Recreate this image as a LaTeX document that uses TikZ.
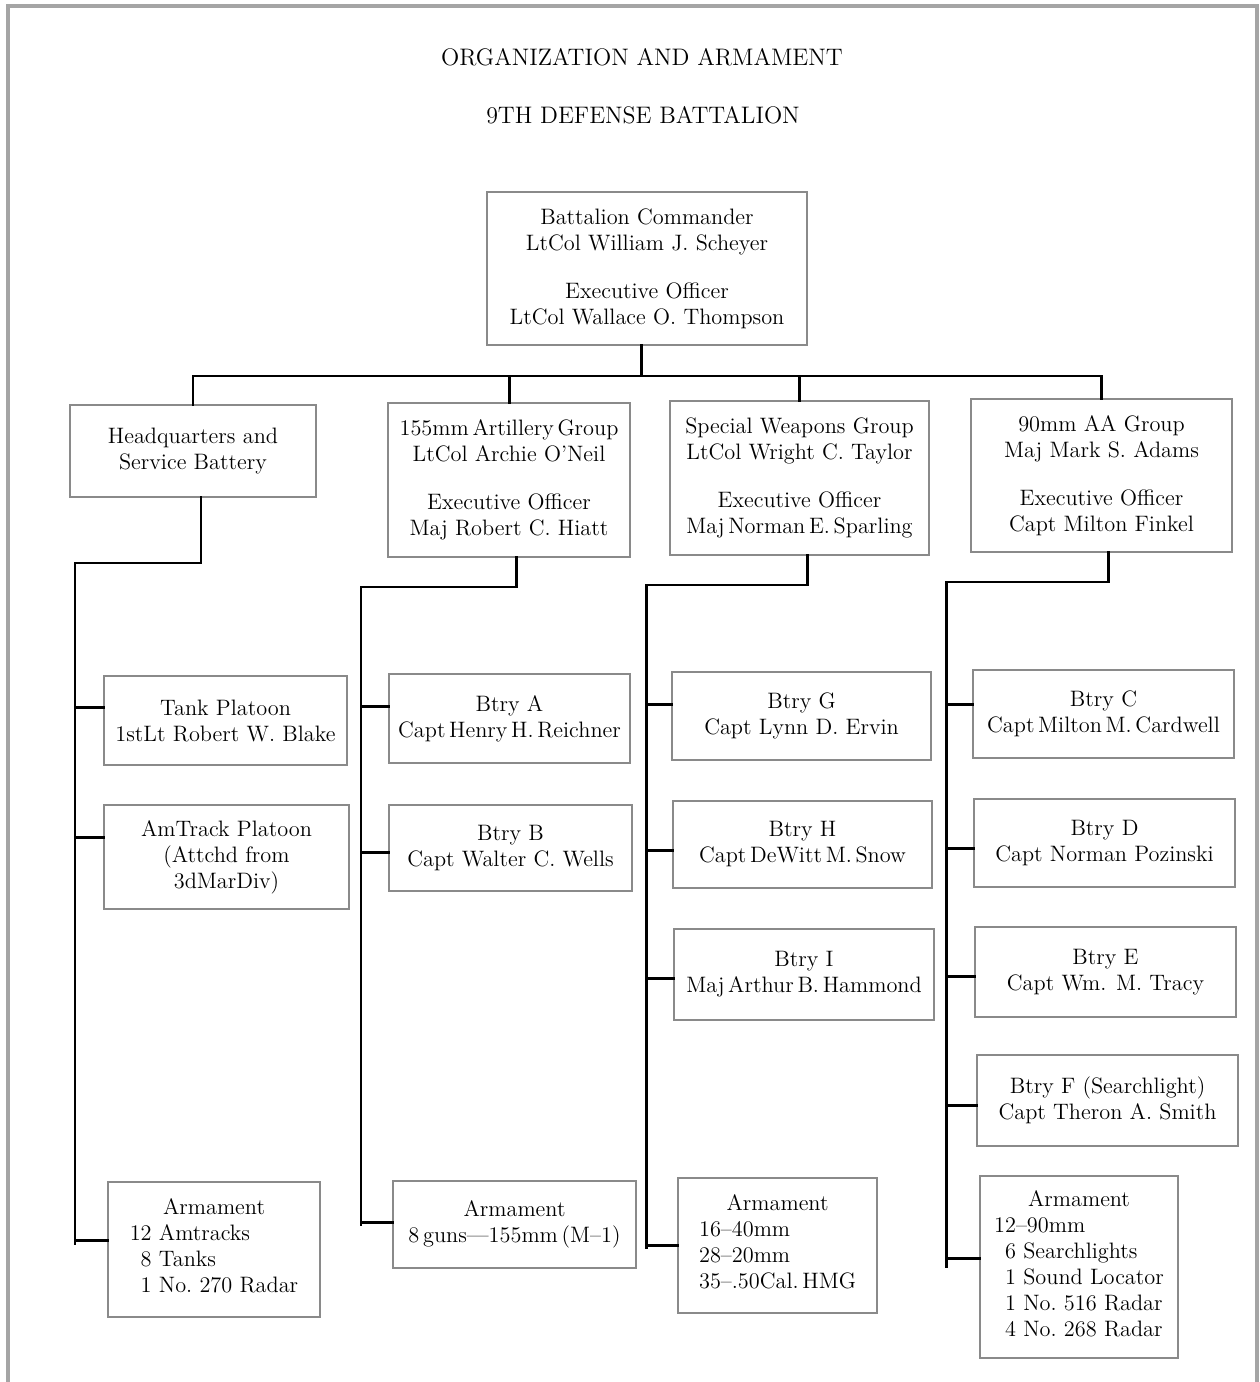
\documentclass[tikz,border=0pt]{standalone}
\usepackage{tikz}
\usetikzlibrary{positioning, calc}
\definecolor{frgrey}{HTML}{A5A5A5}
\definecolor{bxgrey}{HTML}{8A8A8A}

\begin{document}
\begin{tikzpicture}[x=0.02cm, y=-0.02cm, font=\fontsize{12.7}{14.8}\selectfont,
    orgbox/.style 2 args={draw=bxgrey, line width=0.8pt, align=center, inner sep=0pt,
                          minimum width=#1*0.02cm, minimum height=#2*0.02cm},
    link/.style={line width=1.7pt, line cap=rect},
    heading/.style={font=\fontsize{13.6}{16}\selectfont}]
  \useasboundingbox (0,0) rectangle (1260,1382);
  % page frame
  \draw[frgrey, line width=2.3pt] (8,1382) -- (8,6) -- (1257,6) -- (1257,1382);
  \node[heading] (title) at (642,57) {ORGANIZATION AND ARMAMENT};
  \node[heading] (subtitle) at (643,115) {9TH DEFENSE BATTALION};
  % command
  \node[orgbox={320}{153}] (bc) at (647,268.5)
    {Battalion Commander\\LtCol William J. Scheyer\\[12.5pt]Executive Officer\\LtCol Wallace O. Thompson};
  % groups
  \node[orgbox={246}{92}] (hq) at (193,451) {Headquarters and\\Service Battery};
  \node[orgbox={242}{154}] (art) at (509,480)
    {155mm\,Artillery\,Group\\LtCol Archie O'Neil\\[12.5pt]Executive Officer\\Maj Robert C. Hiatt};
  \node[orgbox={259}{154}] (swg) at (799.5,478)
    {Special Weapons Group\\LtCol Wright C. Taylor\\[12.5pt]Executive Officer\\Maj\,Norman\,E.\,Sparling};
  \node[orgbox={261}{153}] (aag) at (1101.5,475.5)
    {90mm AA Group\\Maj Mark S. Adams\\[12.5pt]Executive Officer\\Capt Milton Finkel};
  % headquarters column
  \node[orgbox={243}{89}] (tank) at (225.5,720.5) {Tank Platoon\\1stLt Robert W. Blake};
  \node[orgbox={245}{104}] (amtr) at (226.5,857) {AmTrack Platoon\\(Attchd from\\3dMarDiv)};
  \node[orgbox={212}{135}] (arm1) at (214,1249.5)
    {Armament\\\begin{tabular}[t]{@{}r@{\ }l@{}}12&Amtracks\\8&Tanks\\1&No.\ 270 Radar\end{tabular}};
  % artillery column
  \node[orgbox={241}{89}] (btryA) at (509.5,718.5) {Btry A\\Capt\,Henry\,H.\,Reichner};
  \node[orgbox={243}{86}] (btryB) at (510.5,848) {Btry B\\Capt Walter C. Wells};
  \node[orgbox={243}{87}] (arm2) at (514.5,1224.5) {Armament\\8\,guns---155mm\,(M--1)};
  % special weapons column
  \node[orgbox={259}{88}] (btryG) at (801.5,716) {Btry G\\Capt Lynn D. Ervin};
  \node[orgbox={259}{87}] (btryH) at (802.5,844.5) {Btry H\\Capt\,DeWitt\,M.\,Snow};
  \node[orgbox={260}{91}] (btryI) at (804,974.5) {Btry I\\Maj\,Arthur\,B.\,Hammond};
  \node[orgbox={199}{135}] (arm3) at (777.5,1245.5)
    {Armament\\\begin{tabular}[t]{@{}l@{}}16--40mm\\28--20mm\\35--.50Cal.\,HMG\end{tabular}};
  % AA column
  \node[orgbox={261}{88}] (btryC) at (1103.5,714) {Btry C\\Capt\,Milton\,M.\,Cardwell};
  \node[orgbox={261}{88}] (btryD) at (1104.5,843) {Btry D\\Capt Norman Pozinski};
  \node[orgbox={261}{90}] (btryE) at (1105.5,972) {Btry E\\Capt Wm. M. Tracy};
  \node[orgbox={261}{91}] (btryF) at (1107.5,1100.5) {Btry F (Searchlight)\\Capt Theron A. Smith};
  \node[orgbox={198}{182}] (arm4) at (1079,1267)
    {Armament\\\begin{tabular}[t]{@{}r@{}l@{}}12&--90mm\\6&\ Searchlights\\1&\ Sound Locator\\1&\ No.\ 516 Radar\\4&\ No.\ 268 Radar\end{tabular}};

  % bus
  \coordinate (bus) at (641,376);
  \draw[link] ($(bc.south)+(-6,0)$) -- (bus);
  \draw[link] (hq.north) |- (bus) -| (aag.north);
  \draw[link] (art.north) -- (art.north |- bus);
  \draw[link] (swg.north) -- (swg.north |- bus);

  % trunks
  \coordinate (c1) at (75,563);
  \coordinate (c2) at (361,587);
  \coordinate (c3) at (646,585);
  \coordinate (c4) at (946,582);
  \foreach \b/\d in {tank/-13.5, amtr/-20, arm1/-9.5}
    \draw[link] ($(\b.west)+(0,\d)$) coordinate (t\b) -- (c1 |- t\b);
  \foreach \b/\d in {btryA/-12.5, btryB/4, arm2/-2.5}
    \draw[link] ($(\b.west)+(0,\d)$) coordinate (t\b) -- (c2 |- t\b);
  \foreach \b/\d in {btryG/-12, btryH/5.5, btryI/3.5, arm3/0}
    \draw[link] ($(\b.west)+(0,\d)$) coordinate (t\b) -- (c3 |- t\b);
  \foreach \b/\d in {btryC/-10, btryD/5, btryE/4, btryF/4.5, arm4/-9}
    \draw[link] ($(\b.west)+(0,\d)$) coordinate (t\b) -- (c4 |- t\b);
  \draw[link] ($(hq.south)+(8,0)$) |- (c1) -- ($(c1 |- tarm1)+(0,3)$);
  \draw[link] ($(art.south)+(7,0)$) |- (c2) -- ($(c2 |- tarm2)+(0,2)$);
  \draw[link] ($(swg.south)+(7.5,0)$) |- (c3) -- ($(c3 |- tarm3)+(0,2)$);
  \draw[link] ($(aag.south)+(6.5,0)$) |- (c4) -- ($(c4 |- tarm4)+(0,8)$);
\end{tikzpicture}
\end{document}
